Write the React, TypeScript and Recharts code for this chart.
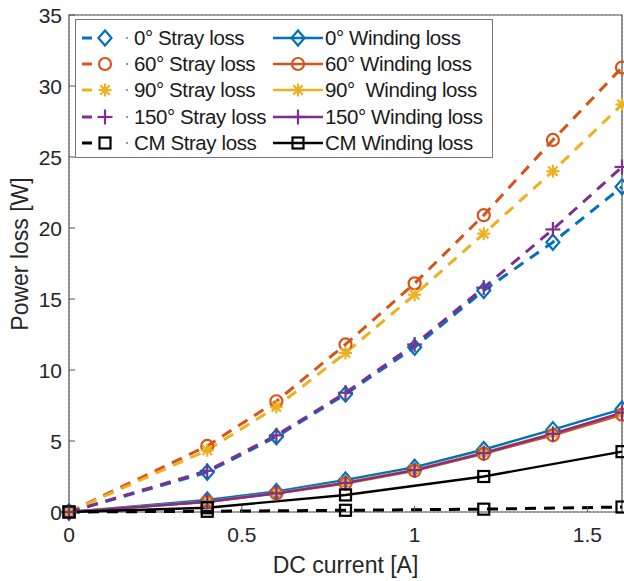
import React from "react";
import { LineChart, Line, XAxis, YAxis, CartesianGrid, ReferenceArea } from "recharts";

// ---- data ----
const xMain = [0, 0.4, 0.6, 0.8, 1.0, 1.2, 1.4, 1.6];
const xCM = [0, 0.4, 0.8, 1.2, 1.6];

const stray0 = [0, 2.8, 5.3, 8.3, 11.6, 15.6, 19.0, 22.9];
const stray60 = [0, 4.65, 7.8, 11.8, 16.1, 20.9, 26.2, 31.3];
const stray90 = [0, 4.35, 7.4, 11.2, 15.3, 19.6, 24.0, 28.7];
const stray150 = [0, 2.9, 5.4, 8.4, 11.8, 15.8, 19.9, 24.3];
const strayCM = [0, 0.05, 0.12, 0.2, 0.35];

const wind0 = [0, 0.85, 1.45, 2.25, 3.15, 4.4, 5.8, 7.25];
const wind60 = [0, 0.7, 1.3, 2.0, 2.9, 4.1, 5.4, 6.85];
const wind90 = [0, 0.75, 1.35, 2.1, 3.0, 4.2, 5.55, 6.95];
const wind150 = [0, 0.72, 1.32, 2.05, 2.95, 4.15, 5.5, 7.0];
const windCM = [0, 0.3, 1.2, 2.5, 4.25];

const xTicks = [0, 0.5, 1, 1.5];
const yTicks = [0, 5, 10, 15, 20, 25, 30, 35];

const BLUE = "#0072BD";
const ORANGE = "#D95319";
const YELLOW = "#EDB120";
const PURPLE = "#7E2F8E";
const BLACK = "#000000";

const toRows = (xs: number[], ys: number[]) => xs.map((x, i) => ({ x, y: ys[i] }));

type Shape = "diamond" | "circle" | "asterisk" | "plus" | "square";

const Marker = ({ cx, cy, shape, color }: { cx: number; cy: number; shape: Shape; color: string }) => {
  const s = 6.5;
  const common = { stroke: color, strokeWidth: 2.2, fill: "none" };
  if (shape === "diamond")
    return <polygon points={`${cx},${cy - s - 1} ${cx + s},${cy} ${cx},${cy + s + 1} ${cx - s},${cy}`} {...common} />;
  if (shape === "circle") return <circle cx={cx} cy={cy} r={s - 0.5} {...common} />;
  if (shape === "square") return <rect x={cx - 5.5} y={cy - 5.5} width={11} height={11} {...common} />;
  if (shape === "plus")
    return (
      <g {...common}>
        <line x1={cx - s - 1} y1={cy} x2={cx + s + 1} y2={cy} />
        <line x1={cx} y1={cy - s - 1} x2={cx} y2={cy + s + 1} />
      </g>
    );
  const d = s * 0.72;
  return (
    <g {...common}>
      <line x1={cx - s} y1={cy} x2={cx + s} y2={cy} />
      <line x1={cx} y1={cy - s} x2={cx} y2={cy + s} />
      <line x1={cx - d} y1={cy - d} x2={cx + d} y2={cy + d} />
      <line x1={cx - d} y1={cy + d} x2={cx + d} y2={cy - d} />
    </g>
  );
};

const dotFor = (shape: Shape, color: string) => (p: any) => {
  if (p.cx == null || p.cy == null) return <g key={p.index} />;
  return <Marker key={`${shape}-${color}-${p.index}`} cx={p.cx} cy={p.cy} shape={shape} color={color} />;
};

const series = [
  { name: "0° Stray loss", data: toRows(xMain, stray0), color: BLUE, shape: "diamond" as Shape, dashed: true },
  { name: "60° Stray loss", data: toRows(xMain, stray60), color: ORANGE, shape: "circle" as Shape, dashed: true },
  { name: "90° Stray loss", data: toRows(xMain, stray90), color: YELLOW, shape: "asterisk" as Shape, dashed: true },
  { name: "150° Stray loss", data: toRows(xMain, stray150), color: PURPLE, shape: "plus" as Shape, dashed: true },
  { name: "CM Stray loss", data: toRows(xCM, strayCM), color: BLACK, shape: "square" as Shape, dashed: true },
  { name: "0° Winding loss", data: toRows(xMain, wind0), color: BLUE, shape: "diamond" as Shape, dashed: false },
  { name: "90°  Winding loss", data: toRows(xMain, wind90), color: YELLOW, shape: "asterisk" as Shape, dashed: false },
  { name: "60° Winding loss", data: toRows(xMain, wind60), color: ORANGE, shape: "circle" as Shape, dashed: false },
  { name: "150° Winding loss", data: toRows(xMain, wind150), color: PURPLE, shape: "plus" as Shape, dashed: false },
  { name: "CM Winding loss", data: toRows(xCM, windCM), color: BLACK, shape: "square" as Shape, dashed: false },
];

const legendRows = [
  [series[0], series[5]],
  [series[1], series[7]],
  [series[2], series[6]],
  [series[3], series[8]],
  [series[4], series[9]],
];

const FONT = "'Liberation Sans', Arial, sans-serif";
const TXT = "#262626";

const LegendSample = ({ s }: { s: any }) => {
  if (s.dashed) {
    return (
      <svg width={57} height={24} style={{ display: "block" }}>
        <line x1={5} y1={12} x2={15} y2={12} stroke={s.color} strokeWidth={3} />
        <Marker cx={28} cy={12} shape={s.shape} color={s.color} />
        <circle cx={50} cy={12} r={1} fill="#777" />
      </svg>
    );
  }
  return (
    <svg width={52} height={24} style={{ display: "block" }}>
      <line x1={0} y1={12} x2={50} y2={12} stroke={s.color} strokeWidth={2.4} />
      <Marker cx={25} cy={12} shape={s.shape} color={s.color} />
    </svg>
  );
};

const LegendBox = () => (
  <div
    style={{
      position: "absolute",
      left: 75,
      top: 19,
      width: 418,
      height: 139,
      border: "1.5px solid #777",
      background: "#fff",
      fontFamily: FONT,
      fontSize: 20.5,
      color: "#1a1a1a",
      boxSizing: "border-box",
      paddingTop: 5,
    }}
  >
    {legendRows.map((row, i) => (
      <div key={i} style={{ display: "flex", alignItems: "center", height: 26.2 }}>
        <div style={{ display: "flex", alignItems: "center", width: 196, marginLeft: 1 }}>
          <LegendSample s={row[0]} />
          <span style={{ whiteSpace: "pre", letterSpacing: -0.4 }}>{row[0].name}</span>
        </div>
        <div style={{ display: "flex", alignItems: "center" }}>
          <LegendSample s={row[1]} />
          <span style={{ whiteSpace: "pre", letterSpacing: -0.4 }}>{row[1].name}</span>
        </div>
      </div>
    ))}
  </div>
);

const XTickBottom = (p: any) => {
  const { x, y, payload } = p;
  return (
    <g>
      <line x1={x} y1={y} x2={x} y2={y - 6} stroke="#555" strokeWidth={1} />
      <text x={x} y={y + 30} textAnchor="middle" fontFamily={FONT} fontSize={21} fill={TXT}>
        {payload.value}
      </text>
    </g>
  );
};
const XTickTop = (p: any) => {
  const { x, y } = p;
  return <line x1={x} y1={y} x2={x} y2={y + 6} stroke="#555" strokeWidth={1} />;
};
const YTickLeft = (p: any) => {
  const { x, y, payload } = p;
  return (
    <g>
      <line x1={x} y1={y} x2={x + 6} y2={y} stroke="#555" strokeWidth={1} />
      <text x={x - 7} y={y + 7.5} textAnchor="end" fontFamily={FONT} fontSize={21} fill={TXT}>
        {payload.value}
      </text>
    </g>
  );
};
const YTickRight = (p: any) => {
  const { x, y } = p;
  return <line x1={x} y1={y} x2={x - 6} y2={y} stroke="#555" strokeWidth={1} />;
};

const YLabel = () => (
  <text
    x={20}
    y={254}
    transform="rotate(-90, 20, 254)"
    textAnchor="middle"
    dominantBaseline="central"
    fontFamily={FONT}
    fontSize={23}
    fill={TXT}
  >
    Power loss [W]
  </text>
);

export default function App() {
  return (
    <div style={{ position: "absolute", left: 0, top: 0, width: 624, height: 581, background: "#fff" }}>
      <LineChart width={624} height={581} margin={{ top: 15, right: 2, left: 0, bottom: 0 }}>
        <CartesianGrid stroke="#999" strokeDasharray="1.5 2.5" strokeWidth={1} />
        <XAxis
          xAxisId="b"
          type="number"
          dataKey="x"
          domain={[0, 1.6]}
          ticks={xTicks}
          height={69}
          axisLine={false}
          tickLine={false}
          tickSize={0}
          tickMargin={0}
          tick={<XTickBottom />}
          label={{ value: "DC current [A]", position: "insideBottom", offset: 8, fontFamily: FONT, fontSize: 23, fill: TXT }}
        />
        <XAxis
          xAxisId="t"
          orientation="top"
          type="number"
          dataKey="x"
          domain={[0, 1.6]}
          ticks={xTicks}
          height={0}
          axisLine={false}
          tickLine={false}
          tickSize={0}
          tickMargin={0}
          tick={<XTickTop />}
        />
        <YAxis
          yAxisId="l"
          type="number"
          domain={[0, 35]}
          ticks={yTicks}
          width={69}
          axisLine={false}
          tickLine={false}
          tickSize={0}
          tickMargin={0}
          tick={<YTickLeft />}
          label={{ content: () => <YLabel /> }}
        />
        <YAxis
          yAxisId="r"
          orientation="right"
          type="number"
          domain={[0, 35]}
          ticks={yTicks}
          width={0}
          axisLine={false}
          tickLine={false}
          tickSize={0}
          tickMargin={0}
          tick={<YTickRight />}
        />
        <ReferenceArea xAxisId="b" yAxisId="l" x1={0} x2={1.6} y1={0} y2={35} fill="none" stroke="#555" strokeWidth={1.2} ifOverflow="visible" />
        {series.map((s) => (
          <Line
            key={s.name}
            xAxisId="b"
            yAxisId="l"
            data={s.data}
            dataKey="y"
            name={s.name}
            type="linear"
            stroke={s.color}
            strokeWidth={s.dashed ? 3 : 2.4}
            strokeDasharray={s.dashed ? "11 8" : undefined}
            dot={dotFor(s.shape, s.color)}
            activeDot={false}
            isAnimationActive={false}
            legendType="none"
          />
        ))}
      </LineChart>
      <LegendBox />
    </div>
  );
}
